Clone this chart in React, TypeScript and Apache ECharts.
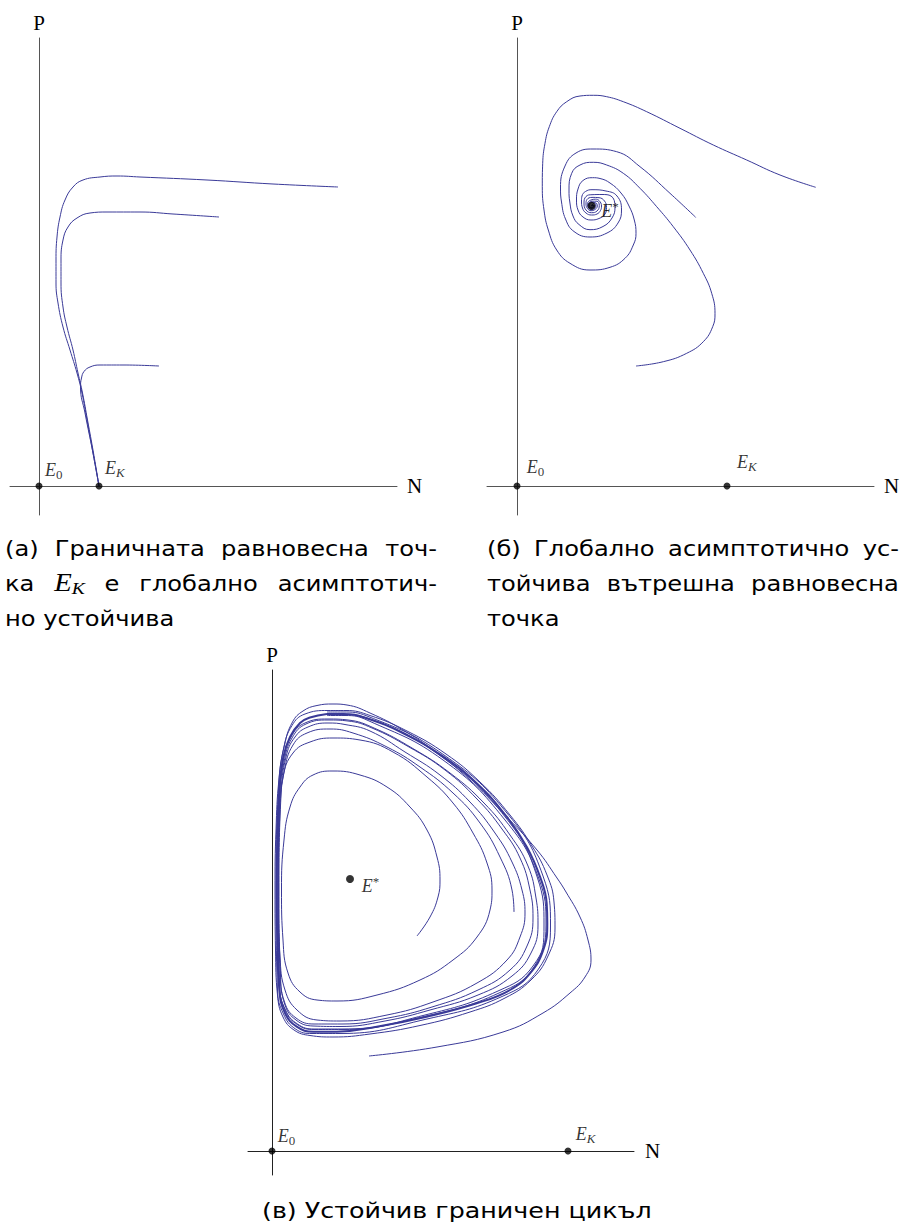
import React, { useEffect, useRef } from "react";
import * as echarts from "echarts";

// Phase portraits in the (N, P) plane, three regimes of a predator–prey model.
// Units: N to the right, P upwards, origin at E0 for every panel.

const TRAJ_COLOR = "#3a3a98";
const SERIF = "'Liberation Serif', serif";

// ---- (а) boundary equilibrium E_K attracts everything ----
const trajA1 = [[299,299],[234,302],[168,306],[101,309],[78,310],[61,309],[44,306],[34,299],[26,286],[21,269],[18,249],[17,226],[17,203],[19,183],[24,159],[31,136],[38,113],[43,93],[48,66],[54,33],[60,0]];
const trajA2 = [[180,269],[134,272],[101,274],[68,274],[51,273],[38,268],[29,259],[24,246],[22,226],[22,203],[24,179],[28,159],[34,136],[39,113],[43.5,93],[48.5,66],[54.5,33],[60,0]];
const trajA3 = [[120,120],[84,121],[61,121],[51,119],[45,114.5],[42.5,108],[41.5,99],[46,73],[54,33],[60,0]];
const equilibriaA = [
  { name: "E0", value: [0, 0] },
  { name: "EK", value: [60, 0] },
];

// ---- (б) interior equilibrium E* is a stable focus ----
const trajB1 = [[298.7,298.7],[263,311],[229.7,326],[196.3,341],[163,357.7],[129.7,374.3],[106.3,384.3],[89.7,389.3],[76.3,390.7],[63,390],[49.7,384.3],[39.7,374.3],[32.3,359.3],[28,342.7],[25.7,322.7],[25.3,299.3],[27,276],[31.3,256],[39.7,236],[53,222.7],[73,216],[93,218.7],[108,227.7],[116.3,241],[119,252.7],[117.3,266],[112,280],[104,293],[93,303],[83,307.5],[75.5,308.3],[66,305.5],[61,297],[59.5,286],[61,276],[66,269],[74,266],[82,267.5],[88,272],[89.5,278.5],[87.5,285],[82,288.3],[75,288.6],[70,286.5],[69,282],[70.5,277.5],[74,275.3],[78,276.5],[80.3,280],[78.5,283.3],[74.8,283.6],[72.5,281.5],[73.5,278.5],[76.2,278.8],[76.5,281],[74.5,280.3]];
const trajB2 = [[178.7,268.7],[153,292.7],[123,319.3],[99.7,334.3],[76,337],[59,333],[48,320],[43.5,298],[44.5,284],[48.5,267],[57,254.5],[73,249],[90,253],[101,263],[104.5,276],[100,290],[89,295],[75,296.3],[68.5,294.5],[65,290],[64.5,285],[65.5,278],[69,273],[74.5,271],[80,272],[83.5,275.5],[84.5,280],[82,285.5],[78.5,286.8],[75,286.3],[71.5,284.5],[70.5,281.5],[71.5,278],[74.5,276.5],[77.5,277.5],[78.8,280.5],[77.5,283],[74.5,280.3]];
const trajB3 = [[119,120],[146.3,124.3],[169.7,132.7],[186.3,144.3],[195.7,159.3],[198,172.7],[194.7,192.7],[186.3,212.7],[173,236],[156.3,259.3],[139.7,279.3],[123,297.7],[106.3,312.7],[89.7,321],[76.3,323.7],[63,321],[54.7,312.7],[52,296],[52.8,284],[56,270],[62,261.5],[73,256.3],[86,259.5],[95,268],[98,279],[94,290],[85,291.5],[75,291.3],[69,289.5],[67,283],[69,276],[74.5,273.3],[80,275],[82.3,280.5],[80,284.8],[75,284.8],[71.5,281.5],[74.5,277.5],[78,280.4],[74.5,280.3]];
const equilibriaB = [
  { name: "E0", value: [0, 0] },
  { name: "EK", value: [210, 0] },
  { name: "Es", value: [74.5, 280.3] },
];

// ---- (в) unstable focus surrounded by a stable limit cycle ----
const trajCInner = [[145,215],[158,234],[166,254],[168,271],[165,294],[155,321],[138,344],[115,364],[88,376],[61,380],[41,376],[28,364],[18,344],[12,311],[9.5,261],[11,211],[16,178],[28,159],[45,151],[65,150],[105,156],[148,171],[181,191],[205,214],[218,241],[220,261],[215,288],[201,318],[181,348],[155,374],[121,399],[88,411],[61,413],[38,409],[21,398],[11,374],[7,328],[6,261],[8,194],[13,161],[25,141],[45,131],[68,130],[115,136],[161,149],[205,168],[235,191],[248,214],[253,238],[250,261],[240,289],[223,318],[198,349],[168,376],[133,399],[98,420],[73,426.5],[56,428],[36,424],[23,414],[14,394],[9,356],[7,261],[8.5,176],[13,146],[24,131],[41,125],[68,124.5],[113,130],[158,141],[206,156],[240,175],[259,198],[266,226],[264,253],[256,285],[238,316],[212,348],[178,378],[140,403],[102,423],[76,431],[56,432],[33,428],[19,414],[11,389],[7.5,351],[5.8,261],[7.5,166],[13.5,140],[26,126],[42,121.5],[71,121.5],[153,136],[226,160],[261,185],[274,226],[267,272],[233,331],[171,391],[96,430.5],[73,435.5],[55,435.5]];
const trajCMiddle = [[242,239],[240,261],[228,294],[208,328],[181,358],[148,384],[115,404],[81,418],[58,422],[35,418],[21,406],[12.5,381],[8,341],[6.5,261],[8,181],[12.5,149],[24,133],[42,127],[70,127],[116,133],[160,144],[206,161],[238,181],[255,205],[261,233],[258,261],[248,293],[230,322],[205,352],[173,381],[137,404],[100,423],[76,430],[56,431],[34,427],[20,413],[12,389],[7.5,351],[6.2,261],[7.5,166],[13.5,141],[25.5,127],[42,122],[70,122],[154,135],[227,158],[262,184],[272,226],[265.5,273],[234,333],[170,394],[95,433],[71,436.5],[55,436.5]];
const trajCOuter = [[97,95],[165,104],[231,119],[271,138],[298,158],[313,174],[319,191],[316,211],[308,234],[294,259],[285,273],[265,301],[231,338],[198,371],[165,398],[131,421],[98,438],[75,446],[61,447],[45,445.5],[31,440],[20.5,429],[12.5,406],[7,372],[4,321],[3,261],[3.5,201],[5.5,156],[11,134],[22,121],[38,115.5],[61,114],[98,117],[148,125.5],[198,139],[233,153],[259,171],[276,195],[283,223],[282,249],[275,276],[260,305],[238,336],[208,369],[174,397],[135,420],[98,435.5],[74,440.5],[56,440.5],[33,437],[20,425.5],[11.5,402],[6.5,362],[4,261],[5.5,161],[11.5,137],[23.5,122],[40,117.5],[68,117.5],[155,132],[230,154.5],[266.5,182],[278.5,225],[271,275],[237,335.5],[172,396],[95,435],[71,439],[55,439]];
const limitCycleC = [[55,437],[38,433.5],[28,428],[18,414],[11.3,394],[7.3,361],[5.3,311],[4.7,261],[5.3,211],[7.3,161],[13,138],[24.7,124.3],[41.3,119.3],[64.7,119.3],[104.7,124.3],[154.7,134.3],[204.7,147.7],[238,161],[258,177.7],[271.3,201],[275.3,227.7],[274.7,247.7],[268,274.3],[254.7,304.3],[234.7,334.3],[204.7,367.7],[171.3,394.3],[131.3,417.7],[94.7,432.7],[71.3,437],[55,437]];
const equilibriaC = [
  { name: "E0", value: [0, 0] },
  { name: "EK", value: [296, 0] },
  { name: "Es", value: [78, 272] },
];

// Captions (rich markup {me|..}{ms|..} draws the math symbol E_K)
const captionA = [
  ["(а)", "Граничната", "равновесна", "точ-"],
  ["ка", "{me|E}{ms|K}", "е", "глобално", "асимптотич-"],
  ["но", "устойчива"],
];
const captionB = [
  ["(б)", "Глобално", "асимптотично", "ус-"],
  ["тойчива", "вътрешна", "равновесна"],
  ["точка"],
];
const captionC = "(в) Устойчив граничен цикъл";

// ---- layout ----
type CaptionFont = { family: string; size: number; stretch: number; central: number };
const CAPTION_FONT: CaptionFont = { family: "'DejaVu Sans'", size: 21, stretch: 1.15, central: 0.346 };
const columnA = { left: 5, right: 437 };
const columnB = { left: 487, right: 899 };
const captionBaselines = [556, 591, 626];
const captionCLayout = { left: 262, right: 652, baseline: 1218 };

const LABEL_TEXT: Record<string, string> = {
  E0: "{e|E}{sub|0}",
  EK: "{e|E}{subi|K}",
  Es: "{e|E}{sup|*}",
};
const LABEL_POS: Record<string, number[]> = {
  a_E0: [9.5, -23.9], a_EK: [9.5, -25.6],
  b_E0: [13.2, -26.6], b_EK: [13.5, -31.6], b_Es: [13.7, -1.8],
  c_E0: [9.2, -22.9], c_EK: [11.2, -24.9], c_Es: [15.7, -0.2],
};
const EQ_RICH = {
  e: { fontFamily: SERIF, fontStyle: "italic", fontSize: 18, lineHeight: 22, color: "#000" },
  sub: { fontFamily: SERIF, fontSize: 13, verticalAlign: "bottom", color: "#000" },
  subi: { fontFamily: SERIF, fontStyle: "italic", fontSize: 13, verticalAlign: "bottom", color: "#000" },
  sup: { fontFamily: SERIF, fontSize: 13, verticalAlign: "top", color: "#000" },
};
const CAPTION_RICH = {
  me: { fontFamily: SERIF, fontStyle: "italic", fontSize: 25, lineHeight: 28, fill: "#000" },
  ms: { fontFamily: SERIF, fontStyle: "italic", fontSize: 17, verticalAlign: "bottom", fill: "#000" },
};

function makeAxis(grid: number, min: number, max: number, color: string, name: string, nameGap: number) {
  return {
    type: "value",
    gridIndex: grid,
    min,
    max,
    name,
    nameLocation: "end",
    nameGap,
    nameTextStyle: { fontFamily: SERIF, fontSize: 21, color: "#000" },
    axisLine: { show: true, onZero: true, lineStyle: { color, width: 1 } },
    axisTick: { show: false },
    axisLabel: { show: false },
    splitLine: { show: false },
  };
}

function trajectory(data: number[][], grid: number, width = 1) {
  return {
    type: "line",
    xAxisIndex: grid,
    yAxisIndex: grid,
    data,
    symbol: "none",
    showSymbol: false,
    smooth: 0.45,
    silent: true,
    z: 2,
    lineStyle: { color: TRAJ_COLOR, width },
  };
}

function equilibria(points: { name: string; value: number[] }[], grid: number, panel: string) {
  return {
    type: "scatter",
    xAxisIndex: grid,
    yAxisIndex: grid,
    silent: true,
    z: 10,
    symbol: "circle",
    itemStyle: { color: "#000" },
    data: points.map((p) => ({
      value: p.value,
      symbolSize: p.name === "Es" ? 8 : 7,
      label: {
        show: true,
        position: LABEL_POS[panel + "_" + p.name],
        formatter: LABEL_TEXT[p.name],
        rich: EQ_RICH,
      },
    })),
  };
}

// Text measuring for justified caption lines
const measureCtx = document.createElement("canvas").getContext("2d") as CanvasRenderingContext2D;
function textWidth(text: string, font: string) {
  measureCtx.font = font;
  return measureCtx.measureText(text).width;
}
function plainFont(f: CaptionFont) {
  return `${f.size}px ${f.family}`;
}
function wordWidth(w: string, f: CaptionFont) {
  if (w.indexOf("{me|") === 0) {
    return textWidth("E", "italic 25px 'Liberation Serif'") + textWidth("K", "italic 17px 'Liberation Serif'");
  }
  return textWidth(w, plainFont(f));
}

function captionText(text: string, x: number, baseline: number, scale: number, f: CaptionFont) {
  const isMath = text.indexOf("{me|") === 0;
  const style: any = {
    text,
    x: 0,
    y: 0,
    fill: "#000",
    align: "left",
    verticalAlign: "middle",
  };
  if (isMath) {
    style.rich = CAPTION_RICH;
    style.font = "25px 'Liberation Serif'";
  } else {
    style.font = plainFont(f);
  }
  return {
    type: "text",
    silent: true,
    x,
    y: isMath ? baseline - 8.4 : baseline - f.central * f.size,
    scaleX: scale,
    style,
  };
}

function captionBlock(lines: string[][], col: { left: number; right: number }, f: CaptionFont) {
  const els: any[] = [];
  const spaceW = textWidth(" ", plainFont(f)) * f.stretch;
  lines.forEach((words, li) => {
    const justified = li < lines.length - 1;
    const widths = words.map((w) => wordWidth(w, f) * f.stretch);
    const total = widths.reduce((s, v) => s + v, 0);
    const gap = justified && words.length > 1 ? (col.right - col.left - total) / (words.length - 1) : spaceW;
    let x = col.left;
    words.forEach((w, wi) => {
      els.push(captionText(w, x, captionBaselines[li], f.stretch, f));
      x += widths[wi] + gap;
    });
  });
  return els;
}

function captionSingle(text: string, layout: { left: number; right: number; baseline: number }, f: CaptionFont) {
  const natural = textWidth(text, plainFont(f));
  const scale = (layout.right - layout.left) / natural;
  return captionText(text, layout.left, layout.baseline, scale, f);
}

export default function App() {
  const ref = useRef<HTMLDivElement>(null);

  useEffect(() => {
    if (!ref.current) return;
    const chart = echarts.init(ref.current, undefined, { renderer: "svg" });
    const option: any = {
      animation: false,
      backgroundColor: "#ffffff",
      grid: [
        { left: 10, top: 38, width: 387, height: 477 },
        { left: 487, top: 38, width: 387, height: 477 },
        { left: 248, top: 670, width: 386, height: 505 },
      ],
      xAxis: [
        makeAxis(0, -29, 358, "#555", "N", 10),
        makeAxis(1, -30, 357, "#555", "N", 10),
        makeAxis(2, -24, 362, "#222", "N", 11),
      ],
      yAxis: [
        makeAxis(0, -29, 448, "#555", "P", 5),
        makeAxis(1, -29, 448, "#555", "P", 5),
        makeAxis(2, -24, 481, "#222", "P", 5),
      ],
      series: [
        trajectory(trajA1, 0),
        trajectory(trajA2, 0),
        trajectory(trajA3, 0),
        equilibria(equilibriaA, 0, "a"),
        trajectory(trajB1, 1),
        trajectory(trajB2, 1),
        trajectory(trajB3, 1),
        equilibria(equilibriaB, 1, "b"),
        trajectory(limitCycleC, 2, 2),
        trajectory(trajCInner, 2),
        trajectory(trajCMiddle, 2),
        trajectory(trajCOuter, 2),
        equilibria(equilibriaC, 2, "c"),
      ],
      graphic: [
        ...captionBlock(captionA, columnA, CAPTION_FONT),
        ...captionBlock(captionB, columnB, CAPTION_FONT),
        captionSingle(captionC, captionCLayout, CAPTION_FONT),
      ],
    };
    chart.setOption(option);
    return () => chart.dispose();
  }, []);

  return (
    <div
      ref={ref}
      style={{ position: "absolute", left: 0, top: 0, width: 903, height: 1226, background: "#fff" }}
    />
  );
}
